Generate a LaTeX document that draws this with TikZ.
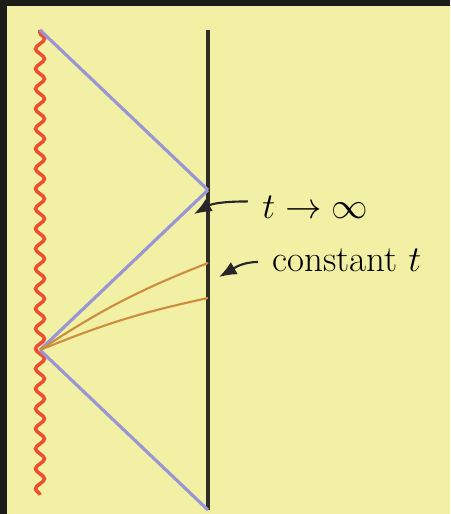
\documentclass[tikz,border=0pt]{standalone}
\usetikzlibrary{arrows.meta,decorations.pathmorphing}
\definecolor{pad}{RGB}{242,240,165}
\definecolor{frame}{RGB}{28,28,24}
\definecolor{nullblue}{RGB}{152,150,212}
\definecolor{singred}{RGB}{238,78,48}
\definecolor{slice}{RGB}{205,140,62}
\definecolor{bdry}{RGB}{45,45,38}

\begin{document}
\begin{tikzpicture}[x=0.02cm,y=0.02cm,
  null/.style={nullblue,line width=1.8pt},
  slicet/.style={slice,line width=1.2pt},
  lbl/.style={anchor=west,inner sep=0pt,font=\fontsize{21}{25}\selectfont},
  pointer/.style={black!85,line width=1.2pt,-{Latex[length=10pt,width=8pt]}}]
  \useasboundingbox (0,0) rectangle (450,514);
  \fill[frame] (0,0) rectangle (450,514); \fill[pad] (7,0) rectangle (450,508);
  % points
  \coordinate (stop) at (40,484); \coordinate (J) at (40,164); \coordinate (sbot) at (40,19);
  \coordinate (btop) at (208,484); \coordinate (P) at (208,324); \coordinate (bbot) at (208,4);
  \coordinate (C1) at (208,251); \coordinate (C2) at (208,216);
  % singularity and boundary
  \draw[singred,line width=2pt,decorate,decoration={snake,segment length=0.4cm,amplitude=0.09cm}] (sbot) -- (stop);
  \draw[bdry,line width=1.8pt] (btop) -- (bbot);
  % light rays
  \draw[null] (stop) -- (P); \draw[null] (P) -- (J); \draw[null] (J) -- (bbot);
  % constant t slices
  \draw[slicet] (J) to[bend left=6] (C1);
  \draw[slicet] (J) to[bend left=5] (C2);
  % labels
  \node[lbl] (tinf) at (262,307) {$t\to\infty$};
  \node[lbl] (const) at (272,254) {constant $t$};
  \coordinate (tip1) at (194,300); \coordinate (tip2) at (219,237);
  \draw[pointer] ([xshift=-8]tinf.north west) ++(0,-6) to[out=180,in=30] (tip1);
  \draw[pointer] ([xshift=-8]const.west) ++(0,-2) to[out=180,in=30] (tip2);
\end{tikzpicture}
\end{document}
